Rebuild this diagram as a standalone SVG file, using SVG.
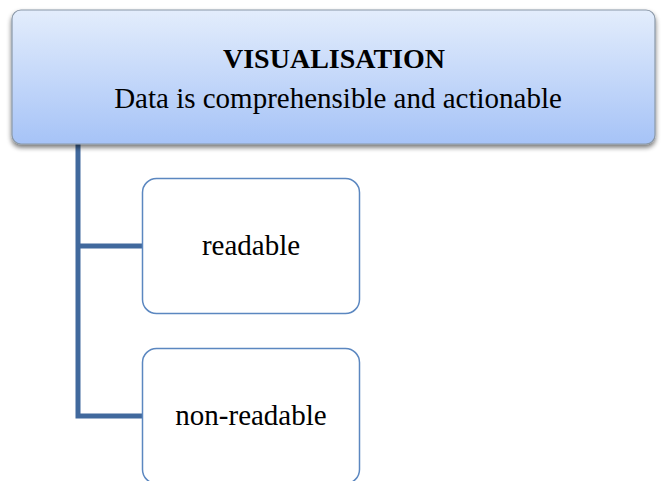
<svg xmlns="http://www.w3.org/2000/svg" width="666" height="481" viewBox="0 0 666 481">
  <defs>
    <linearGradient id="headFill" x1="0" y1="0" x2="0" y2="1">
      <stop offset="0" stop-color="#e3edfc"/>
      <stop offset="1" stop-color="#a6c3f7"/>
    </linearGradient>
    <filter id="drop" x="-5%" y="-10%" width="110%" height="130%">
      <feGaussianBlur in="SourceAlpha" stdDeviation="2.5"/>
      <feOffset dx="0" dy="3" result="b"/>
      <feComponentTransfer><feFuncA type="linear" slope="0.55"/></feComponentTransfer>
      <feMerge><feMergeNode/><feMergeNode in="SourceGraphic"/></feMerge>
    </filter>
  </defs>
  <style>
    .head { fill: url(#headFill); stroke: #8a98a8; stroke-width: 1.2; }
    .child { fill: #ffffff; stroke: #5b87c0; stroke-width: 1.5; }
    .link { fill: none; stroke: #41699d; stroke-width: 5; }
    text { font-family: "Liberation Serif", "Times New Roman", serif; fill: #000000; text-anchor: middle; }
    .title { font-size: 28px; font-weight: bold; }
    .sub { font-size: 29px; }
    .lbl { font-size: 29px; }
  </style>
  <rect width="666" height="481" fill="#ffffff"/>

  <!-- tree connectors -->
  <g id="connectors">
    <path class="link" d="M78 143 V416 H143"/>
    <path class="link" d="M78 246 H143"/>
  </g>

  <g id="visualisation">
    <rect class="head" x="12" y="10" width="643" height="134" rx="9" filter="url(#drop)"/>
    <text class="title" x="334" y="68">VISUALISATION</text>
    <text class="sub" x="338" y="108">Data is comprehensible and actionable</text>
  </g>

  <g id="readable">
    <rect class="child" x="142.5" y="178.5" width="217" height="135" rx="14"/>
    <text class="lbl" x="251" y="255">readable</text>
  </g>

  <g id="non-readable">
    <rect class="child" x="142.5" y="348.5" width="217" height="135" rx="14"/>
    <text class="lbl" x="251" y="425">non-readable</text>
  </g>
</svg>
